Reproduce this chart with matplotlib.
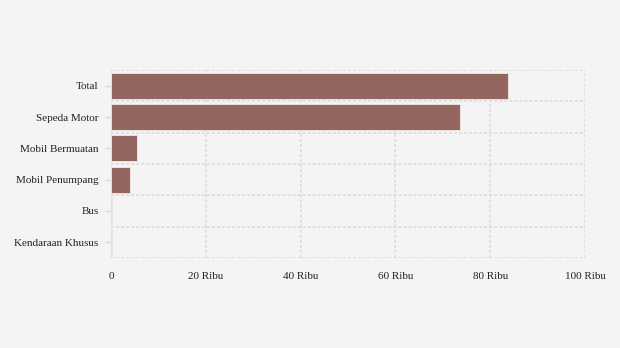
import matplotlib
matplotlib.use("Agg")
import matplotlib.pyplot as plt
import numpy as np
from matplotlib.ticker import FixedLocator

categories = ["Total", "Sepeda Motor", "Mobil Bermuatan", "Mobil Penumpang", "Bus", "Kendaraan Khusus"]
values = [83800, 73600, 5500, 4000, 200, 200]
xticks = [0, 20000, 40000, 60000, 80000, 100000]
xticklabels = ["0", "20 Ribu", "40 Ribu", "60 Ribu", "80 Ribu", "100 Ribu"]

plt.rcParams['font.family'] = ['Liberation Serif', 'DejaVu Serif']

bg = "#f4f4f4"
fig = plt.figure(figsize=(6.2, 3.48), dpi=100, facecolor=bg)
ax = fig.add_axes([111/620, 1-258/348, (585-111)/620, (258-70)/348])
ax.set_facecolor(bg)

y = np.arange(len(categories))
ax.barh(y, values, height=0.82, color="#956560", edgecolor="#f0e8e8", linewidth=0.6, zorder=3)

ax.set_xlim(0, 100000)
ax.set_ylim(len(categories)-0.5, -0.5)
ax.set_xticks(xticks)
ax.set_xticklabels(xticklabels, fontsize=8)
ax.set_yticks(y)
ax.set_yticklabels(categories, fontsize=8)

grid_kw = dict(color="#dadada", linestyle=(0, (2.0, 1.3)), linewidth=1.1)
ax.grid(False)
for xv in xticks:
    ax.axvline(xv, zorder=1, **grid_kw)
for yv in np.arange(-0.5, len(categories), 1.0):
    ax.axhline(yv, zorder=1, **grid_kw)

for s in ax.spines.values():
    s.set_visible(False)

ax.tick_params(axis='x', length=0, pad=10, colors="#222222")
ax.tick_params(axis='y', which='major', length=4, width=1, color="#dadada", pad=5, labelcolor="#222222")

fig.savefig("out.png", dpi=100, facecolor=bg)
